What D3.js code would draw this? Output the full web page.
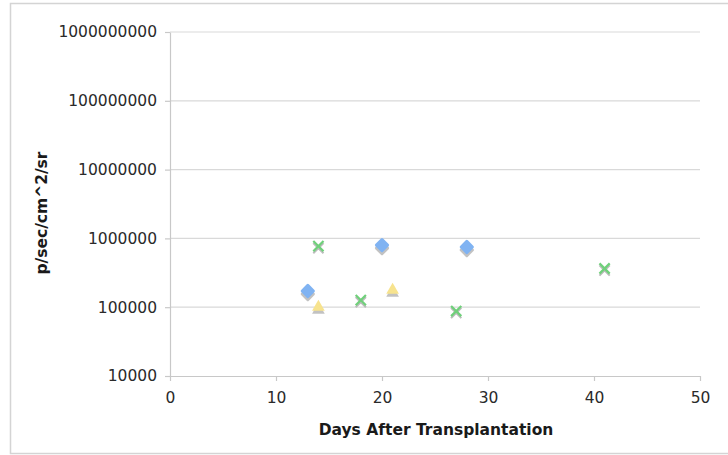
<!DOCTYPE html>
<html>
<head>
<meta charset="utf-8">
<script src="https://cdn.jsdelivr.net/npm/d3@7"></script>
<style>
  body { margin: 0; background: #fff; }
  #chart { width: 728px; height: 455px; }
  text { font-family: "DejaVu Sans", Verdana, sans-serif; }
</style>
</head>
<body>
<div id="chart"></div>
<script>
// data
const blueDays = [13, 20, 28];
const blueVals = [172000, 800000, 750000];
const yellowDays = [14, 21];
const yellowVals = [100000, 178000];
const greenDays = [14, 18, 27, 41];
const greenVals = [770000, 127000, 88000, 365000];

const xTicks = [0, 10, 20, 30, 40, 50];
const yTicks = [10000, 100000, 1000000, 10000000, 100000000, 1000000000];

const width = 728, height = 455;
const margin = { top: 32, right: 28, bottom: 79, left: 170 };

const svg = d3.select("#chart").append("svg")
  .attr("width", width).attr("height", height);

// outer frame
svg.append("rect")
  .attr("x", 10.5).attr("y", 3.5)
  .attr("width", width - 8).attr("height", height - 5)
  .attr("fill", "none").attr("stroke", "#d4d4d4").attr("stroke-width", 1.5);

const x = d3.scaleLinear().domain([0, 50]).range([margin.left, width - margin.right]);
const y = d3.scaleLog().domain([10000, 1000000000]).range([height - margin.bottom, margin.top]);

// grid
svg.append("g")
  .selectAll("line")
  .data(yTicks.slice(1))
  .join("line")
  .attr("x1", x(0)).attr("x2", x(50))
  .attr("y1", d => y(d)).attr("y2", d => y(d))
  .attr("stroke", "#d9d9d9").attr("stroke-width", 1.2);

// axes
const xAxis = d3.axisBottom(x).tickValues(xTicks).tickSize(5).tickSizeOuter(0).tickPadding(11);
const yAxis = d3.axisLeft(y).tickValues(yTicks).tickSize(5).tickSizeOuter(0).tickPadding(8)
  .tickFormat(d3.format("d"));

const gx = svg.append("g")
  .attr("transform", `translate(0,${y(10000)})`)
  .call(xAxis);
const gy = svg.append("g")
  .attr("transform", `translate(${x(0)},0)`)
  .call(yAxis);

[gx, gy].forEach(g => {
  g.select(".domain").attr("stroke", "#c8c8c8").attr("stroke-width", 1.2);
  g.selectAll(".tick line").attr("stroke", "#c8c8c8").attr("stroke-width", 1.2);
  g.selectAll(".tick text").attr("fill", "#2a2a2a").attr("font-size", 15.5)
    .attr("font-family", "DejaVu Sans, sans-serif");
});

// titles
svg.append("text")
  .attr("x", (x(0) + x(50)) / 2 + 1).attr("y", 435)
  .attr("text-anchor", "middle")
  .attr("font-size", 15.5).attr("font-weight", "bold").attr("fill", "#1a1a1a")
  .text("Days After Transplantation");

svg.append("text")
  .attr("transform", `translate(47,${(y(10000) + y(1000000000)) / 2 + 9}) rotate(-90)`)
  .attr("text-anchor", "middle")
  .attr("font-size", 15.5).attr("font-weight", "bold").attr("fill", "#1a1a1a")
  .text("p/sec/cm^2/sr");

// markers
const zip = (a, b) => a.map((d, i) => ({ day: d, val: b[i] }));
const shadow = 3;

const diamond = d3.symbol().type(d3.symbolDiamond2).size(80);
const tri = d3.symbol().type(d3.symbolTriangle).size(70);

const blue = svg.append("g");
blue.selectAll("path.sh").data(zip(blueDays, blueVals)).join("path")
  .attr("transform", d => `translate(${x(d.day)},${y(d.val) + shadow})`)
  .attr("d", diamond).attr("fill", "#9a9a9a").attr("opacity", 0.6)
  .attr("stroke", "#9a9a9a").attr("stroke-width", 3).attr("stroke-linejoin", "round");
blue.selectAll("path.mk").data(zip(blueDays, blueVals)).join("path")
  .attr("transform", d => `translate(${x(d.day)},${y(d.val)})`)
  .attr("d", diamond).attr("fill", "#80b3f2").attr("stroke", "#80b3f2")
  .attr("stroke-width", 3).attr("stroke-linejoin", "round");

const yellow = svg.append("g");
yellow.selectAll("path.sh").data(zip(yellowDays, yellowVals)).join("path")
  .attr("transform", d => `translate(${x(d.day)},${y(d.val) + shadow})`)
  .attr("d", tri).attr("fill", "#9a9a9a").attr("opacity", 0.6);
yellow.selectAll("path.mk").data(zip(yellowDays, yellowVals)).join("path")
  .attr("transform", d => `translate(${x(d.day)},${y(d.val)})`)
  .attr("d", tri).attr("fill", "#f7e38e");

const green = svg.append("g");
const cross = d3.symbol().type(d3.symbolX).size(70);
green.selectAll("path.sh").data(zip(greenDays, greenVals)).join("path")
  .attr("transform", d => `translate(${x(d.day)},${y(d.val) + 2})`)
  .attr("d", cross).attr("stroke", "#bbbbbb").attr("stroke-width", 2).attr("fill", "none");
green.selectAll("path.mk").data(zip(greenDays, greenVals)).join("path")
  .attr("transform", d => `translate(${x(d.day)},${y(d.val)})`)
  .attr("d", cross).attr("stroke", "#6fd07a").attr("stroke-width", 2.2).attr("fill", "none");
</script>
</body>
</html>
